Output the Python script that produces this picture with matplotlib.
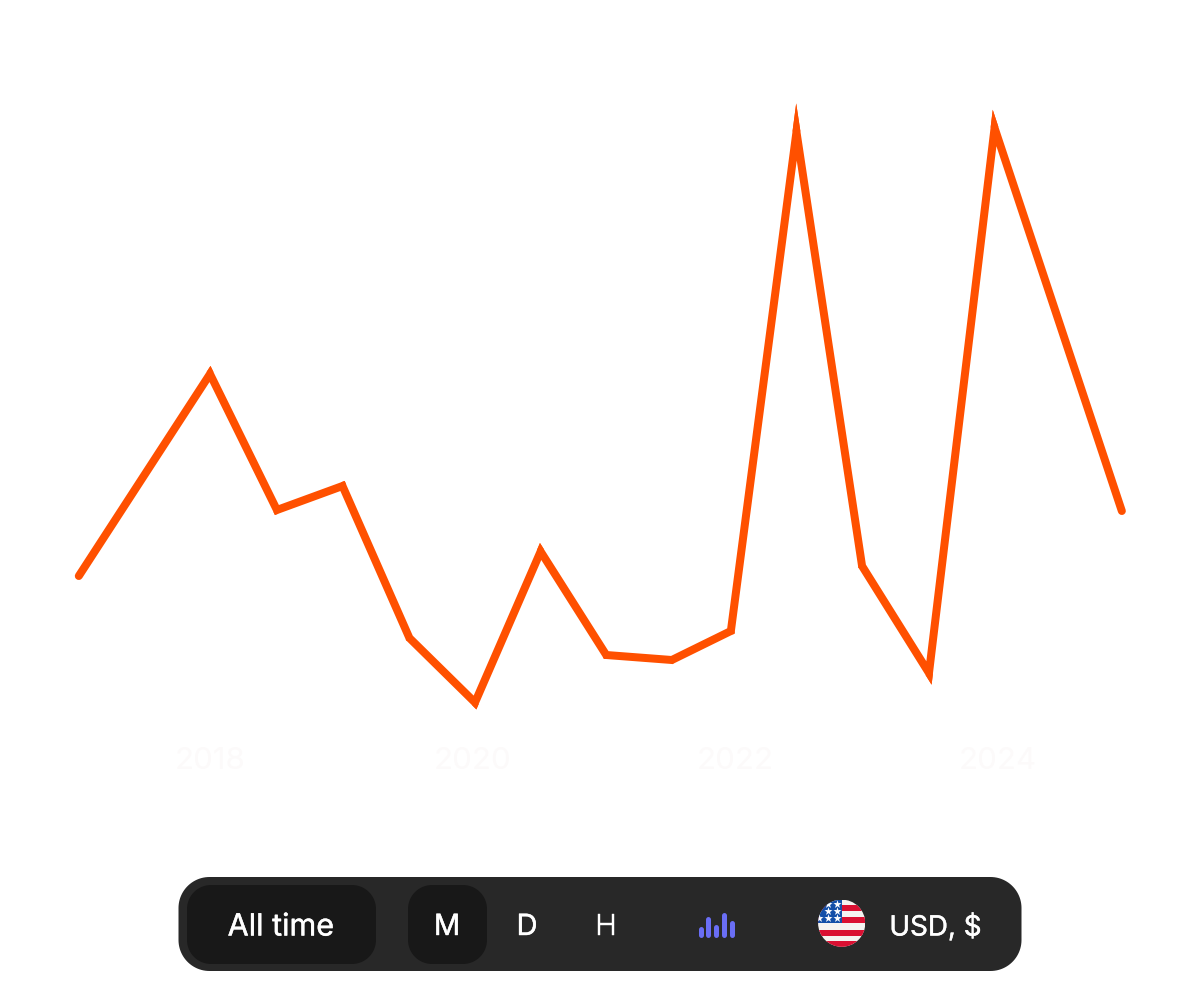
import numpy as np
import matplotlib
matplotlib.use('Agg')
import matplotlib.pyplot as plt
import matplotlib.patheffects as pe
from matplotlib.patches import Circle, Rectangle
from matplotlib.transforms import IdentityTransform

plt.rcParams['font.family'] = ['Inter', 'DejaVu Sans']

# chart data, year against an arbitrary value scale
years = [2017.0, 2018.0, 2018.51, 2019.01, 2019.52, 2020.02, 2020.52, 2021.02,
         2021.52, 2021.97, 2022.47, 2022.97, 2023.48, 2023.98, 2024.95]
values = [183, 385, 249, 273, 121, 56.5, 207.5, 104, 99, 128, 627, 193, 86, 631, 248]
tick_years = [2018, 2020, 2022, 2024]

# toolbar contents
range_label = 'All time'
interval_labels = ['M', 'D', 'H']
currency_label = 'USD, $'
icon_bar_heights = [11, 21, 13, 25, 17]

W, H = 1200, 1004
LINE_PX = 8.0
ORANGE = '#ff5000'

fig = plt.figure(figsize=(W / 100, H / 100), dpi=100, facecolor='white')

ax = fig.add_axes([0, 0, 1, 1])
ax.set_xlim(2018 - 210 / 131.2, 2018 + (W - 210) / 131.2)
ax.set_ylim(760 - H, 760)
ax.axis('off')

ax.plot(years, values, color=ORANGE, lw=LINE_PX * 0.72,
        solid_joinstyle='miter', solid_capstyle='round', zorder=3)

# agg cuts sharp mitres short, so the long tips are filled in by hand
pts = ax.transData.transform(np.column_stack([years, values]))
for i in range(1, len(pts) - 1):
    a = pts[i - 1] - pts[i]
    b = pts[i + 1] - pts[i]
    a = a / np.hypot(*a)
    b = b / np.hypot(*b)
    bis = a + b
    if np.hypot(*bis) < 0.05:
        continue
    bis = bis / np.hypot(*bis)
    sin_half = abs(a[0] * bis[1] - a[1] * bis[0])
    tip = pts[i] - bis * (LINE_PX / 2) / sin_half
    side_a = pts[i] + np.array([a[1], -a[0]]) * LINE_PX / 2
    side_b = pts[i] + np.array([b[1], -b[0]]) * LINE_PX / 2
    if np.dot(side_a - pts[i], bis) > 0:
        side_a = pts[i] - np.array([a[1], -a[0]]) * LINE_PX / 2
    if np.dot(side_b - pts[i], bis) > 0:
        side_b = pts[i] - np.array([b[1], -b[0]]) * LINE_PX / 2
    poly = np.array([pts[i], side_a, tip, side_b])
    ax.fill(poly[:, 0], poly[:, 1], color=ORANGE, lw=0, zorder=3,
            transform=IdentityTransform())

for year in tick_years:
    ax.text(year, 760 - 758, str(year), color='#fcfafa', fontsize=22.5,
            ha='center', va='center_baseline')

# toolbar, drawn in pixel coordinates
ui = fig.add_axes([0, 0, 1, 1])
ui.set_xlim(0, W)
ui.set_ylim(H, 0)
ui.axis('off')
ui.patch.set_alpha(0)


def pill(x0, y0, x1, y1, r, color):
    # rounded box with true circular corners
    t = np.linspace(0, np.pi / 2, 24)
    xs = np.concatenate([x1 - r + r * np.cos(t), x0 + r - r * np.sin(t),
                         x0 + r - r * np.cos(t), x1 - r + r * np.sin(t)])
    ys = np.concatenate([y1 - r + r * np.sin(t), y1 - r + r * np.cos(t),
                         y0 + r - r * np.sin(t), y0 + r - r * np.cos(t)])
    ui.fill(xs, ys, color=color, lw=0)


pill(178.5, 878, 1021.5, 972, 31, '#282828')
pill(187, 886, 376, 965, 24, '#181818')
pill(408, 886, 487, 965, 24, '#181818')

bold = [pe.withStroke(linewidth=0.3, foreground='white')]
ui.text(281, 925.5, range_label, color='white', fontsize=22, ha='center',
        va='center_baseline', path_effects=bold)
for label, x in zip(interval_labels, [447, 527, 606]):
    ui.text(x, 925.5, label, color='white', fontsize=21, ha='center',
            va='center_baseline', path_effects=bold)
ui.text(935.5, 925.5, currency_label, color='white', fontsize=20, ha='center',
        va='center_baseline', path_effects=bold)

# little bars icon
for h, x in zip(icon_bar_heights, [700.5, 708, 715.5, 723.5, 731.5]):
    ui.plot([x, x], [935.5, 938 - h + 2.5], color='#6a6ef5', lw=3.6, solid_capstyle='round')

# flag
cx, cy, r = 841.7, 924.2, 23.6
clip = Circle((cx, cy), r, transform=ui.transData)
parts = [Rectangle((cx - r, cy - r), 2 * r, 2 * r, fc='#f5f3f1', ec='none')]
for y0, y1 in [(905.7, 911.7), (918.3, 924.3), (930.7, 936.7), (942.3, 948.5)]:
    parts.append(Rectangle((cx - r, y0), 2 * r, y1 - y0, fc='#da1032', ec='none'))
parts.append(Rectangle((cx - r, cy - r), r, r, fc='#134fa8', ec='none'))
for p in parts:
    ui.add_patch(p)
    p.set_clip_path(clip)
star_x = [827.7, 836.7, 827.7, 836.7, 819.3, 827.7, 836.7]
star_y = [905, 905, 911.7, 911.7, 919, 919, 919]
stars = ui.scatter(star_x, star_y, marker='*', s=38, color='white', lw=0, zorder=3)
stars.set_clip_path(clip)

fig.savefig('out.png', dpi=100, facecolor='white')
